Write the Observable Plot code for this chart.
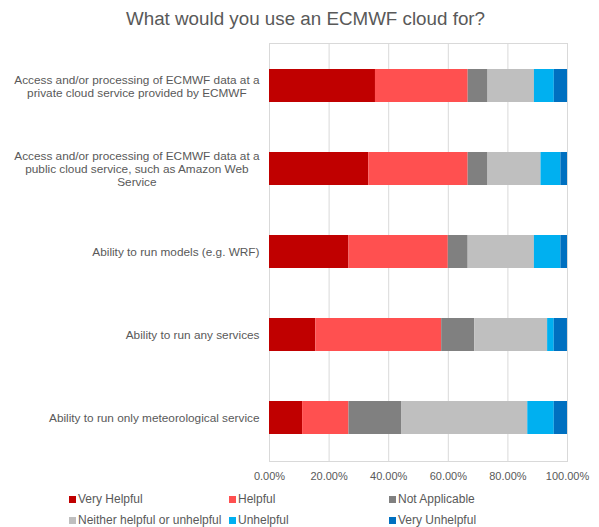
<!DOCTYPE html>
<html>
<head>
<meta charset="utf-8">
<script src="https://cdn.jsdelivr.net/npm/d3@7"></script>
<script src="https://cdn.jsdelivr.net/npm/@observablehq/plot@0.6"></script>
<style>
  html, body { margin: 0; padding: 0; background: #fff; }
  #wrap { width: 599px; height: 527px; position: relative; font-family: Arial, "Liberation Sans", sans-serif; color: #595959; }
  #title { height: 36px; box-sizing: border-box; padding-top: 8px; line-height: 21px; font-size: 18.8px; text-align: center; padding-left: 12px; }
  #chart svg { display: block; }
  #legend { margin-top: 2px; padding-left: 69px; display: grid; grid-template-columns: 160px 160px 160px; font-size: 12px; }
  .item { height: 21px; line-height: 21px; white-space: nowrap; display: flex; align-items: center; }
  .sw { width: 7px; height: 7px; margin-right: 2px; flex: none; }
</style>
</head>
<body>
<div id="wrap">
  <div id="title">What would you use an ECMWF cloud for?</div>
  <div id="chart"></div>
  <div id="legend"></div>
</div>
<script>
const questions = [
  "Access and/or processing of ECMWF data at a\nprivate cloud service provided by ECMWF",
  "Access and/or processing of ECMWF data at a\npublic cloud service, such as Amazon Web\nService",
  "Ability to run models (e.g. WRF)",
  "Ability to run any services",
  "Ability to run only meteorological service"
];
const categories = ["Very Helpful", "Helpful", "Not Applicable", "Neither helpful or unhelpful", "Unhelpful", "Very Unhelpful"];
const colors = ["#C00000", "#FF5050", "#808080", "#BFBFBF", "#00B0F0", "#0070C0"];

const veryHelpful   = [35.56, 33.33, 26.67, 15.56, 11.11];
const helpful       = [31.11, 33.33, 33.33, 42.22, 15.56];
const notApplicable = [6.67, 6.67, 6.67, 11.11, 17.78];
const neither       = [15.56, 17.78, 22.22, 24.44, 42.22];
const unhelpful     = [6.67, 6.67, 8.89, 2.22, 8.89];
const veryUnhelpful = [4.44, 2.22, 2.22, 4.44, 4.44];
const xTicks = [0, 0.2, 0.4, 0.6, 0.8, 1];

const series = [veryHelpful, helpful, notApplicable, neither, unhelpful, veryUnhelpful];
const data = [];
categories.forEach((c, ci) => {
  questions.forEach((q, qi) => {
    data.push({question: q, category: c, value: series[ci][qi] / 100});
  });
});

const chart = Plot.plot({
  width: 599,
  height: 451,
  marginTop: 7,
  marginBottom: 26,
  marginLeft: 269,
  marginRight: 32,
  style: {fontFamily: 'Arial, "Liberation Sans", sans-serif', color: "#595959", background: "white"},
  x: {domain: [0, 1]},
  y: {domain: questions, paddingInner: 0.6, paddingOuter: 0.3},
  color: {domain: categories, range: colors},
  marks: [
    Plot.gridX(xTicks, {stroke: "#d9d9d9", strokeOpacity: 1}),
    Plot.frame({stroke: "#d9d9d9"}),
    Plot.barX(data, {x: "value", y: "question", fill: "category"}),
    Plot.axisX(xTicks, {tickSize: 0, tickPadding: 11, fontSize: 11, tickFormat: d3.format(".2%"), label: null, fill: "#595959"}),
    Plot.axisY({tickSize: 0, tickPadding: 10, fontSize: 11.8, lineHeight: 1.1, label: null, fill: "#595959"})
  ]
});
document.getElementById("chart").appendChild(chart);

// center the lines of multi-line y labels within their right-aligned block
d3.select(chart).selectAll('g[aria-label="y-axis tick label"] text').each(function() {
  const tspans = this.querySelectorAll("tspan");
  if (tspans.length > 1) {
    let W = 0;
    tspans.forEach(t => { W = Math.max(W, t.getComputedTextLength()); });
    this.setAttribute("text-anchor", "middle");
    tspans.forEach(t => t.setAttribute("x", -W / 2));
  }
});

const legend = document.getElementById("legend");
categories.forEach((c, i) => {
  const item = document.createElement("div");
  item.className = "item";
  const sw = document.createElement("span");
  sw.className = "sw";
  sw.style.background = colors[i];
  item.appendChild(sw);
  item.appendChild(document.createTextNode(c));
  legend.appendChild(item);
});
</script>
</body>
</html>
